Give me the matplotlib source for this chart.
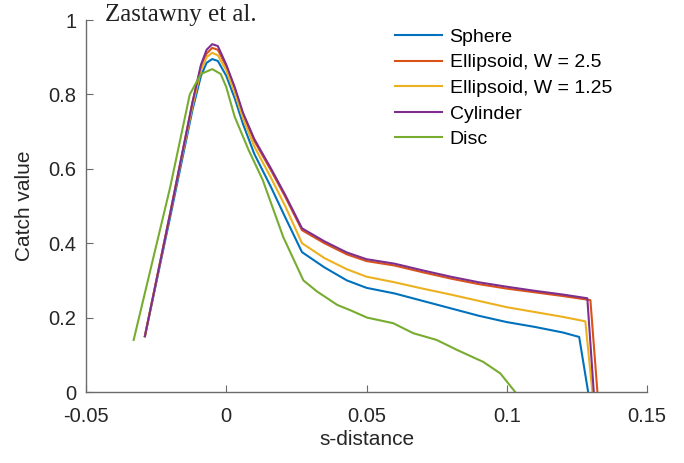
import numpy as np
import matplotlib.pyplot as plt

plt.rcParams['font.family'] = ['Liberation Sans', 'DejaVu Sans']

# catch value along the s-distance for each particle shape
s_sphere = [-0.029, -0.020, -0.012, -0.009, -0.007, -0.005, -0.003, 0.000, 0.003, 0.006, 0.010,
            0.016, 0.021, 0.027, 0.035, 0.043, 0.050, 0.060, 0.070, 0.080, 0.090, 0.100, 0.110,
            0.120, 0.1258, 0.129]
v_sphere = [0.15, 0.47, 0.76, 0.85, 0.885, 0.895, 0.89, 0.85, 0.79, 0.72, 0.64,
            0.55, 0.47, 0.376, 0.335, 0.30, 0.28, 0.265, 0.245, 0.225, 0.205, 0.188, 0.175,
            0.160, 0.148, 0.0]

s_ell25 = [-0.029, -0.020, -0.012, -0.009, -0.007, -0.005, -0.003, 0.000, 0.003, 0.006, 0.010,
           0.016, 0.021, 0.027, 0.035, 0.043, 0.050, 0.060, 0.070, 0.080, 0.090, 0.100, 0.110,
           0.120, 0.1298, 0.1323]
v_ell25 = [0.15, 0.48, 0.78, 0.875, 0.91, 0.925, 0.92, 0.875, 0.815, 0.745, 0.675,
           0.595, 0.525, 0.435, 0.40, 0.37, 0.352, 0.34, 0.322, 0.305, 0.29, 0.278, 0.268,
           0.258, 0.247, 0.0]

s_ell125 = [-0.029, -0.020, -0.012, -0.009, -0.007, -0.005, -0.003, 0.000, 0.003, 0.006, 0.010,
            0.016, 0.021, 0.027, 0.035, 0.043, 0.050, 0.060, 0.070, 0.080, 0.090, 0.100, 0.110,
            0.120, 0.128, 0.1305]
v_ell125 = [0.15, 0.48, 0.77, 0.865, 0.90, 0.912, 0.905, 0.865, 0.805, 0.735, 0.66,
            0.575, 0.50, 0.40, 0.36, 0.33, 0.31, 0.295, 0.278, 0.262, 0.245, 0.228, 0.215,
            0.202, 0.19, 0.0]

s_cyl = [-0.029, -0.020, -0.012, -0.009, -0.007, -0.005, -0.003, 0.000, 0.003, 0.006, 0.010,
         0.016, 0.021, 0.027, 0.035, 0.043, 0.050, 0.060, 0.070, 0.080, 0.090, 0.100, 0.110,
         0.120, 0.1287, 0.131]
v_cyl = [0.15, 0.48, 0.78, 0.88, 0.92, 0.935, 0.93, 0.88, 0.82, 0.75, 0.68,
         0.60, 0.53, 0.44, 0.405, 0.375, 0.357, 0.345, 0.327, 0.31, 0.295, 0.283, 0.272,
         0.262, 0.252, 0.0]

s_disc = [-0.033, -0.020, -0.013, -0.009, -0.005, -0.002, 0.000, 0.003, 0.008, 0.013, 0.0203,
          0.0275, 0.0324, 0.0396, 0.0442, 0.0502, 0.0595, 0.0667, 0.075, 0.0823, 0.0916,
          0.0977, 0.103]
v_disc = [0.14, 0.55, 0.80, 0.855, 0.868, 0.855, 0.82, 0.74, 0.65, 0.57, 0.417,
          0.30, 0.27, 0.234, 0.22, 0.20, 0.185, 0.158, 0.14, 0.113, 0.081,
          0.05, 0.0]

series = [
    ('Sphere', s_sphere, v_sphere, '#0072BD'),
    ('Ellipsoid, W = 2.5', s_ell25, v_ell25, '#D95319'),
    ('Ellipsoid, W = 1.25', s_ell125, v_ell125, '#EDB120'),
    ('Cylinder', s_cyl, v_cyl, '#7E2F8E'),
    ('Disc', s_disc, v_disc, '#77AC30'),
]

fig = plt.figure(figsize=(6.84, 4.63), dpi=100)
ax = fig.add_axes([0.1257, 0.1533, 0.8203, 0.8035])

for name, s, v, c in series:
    ax.plot(s, v, color=c, lw=1.5, label=name)

ax.set_xlim(-0.05, 0.15)
ax.set_ylim(0, 1)
ax.set_xticks([-0.05, 0, 0.05, 0.1, 0.15])
ax.set_xticklabels(['-0.05', '0', '0.05', '0.1', '0.15'])
ax.set_yticks([0, 0.2, 0.4, 0.6, 0.8, 1])
ax.set_yticklabels(['0', '0.2', '0.4', '0.6', '0.8', '1'])

for side in ['top', 'right']:
    ax.spines[side].set_visible(False)
for side in ['left', 'bottom']:
    ax.spines[side].set_color('#6b6b6b')
    ax.spines[side].set_linewidth(1.0)
ax.tick_params(direction='in', length=5, width=0.8, color='#6b6b6b',
               labelsize=14.5, labelcolor='#262626')
ax.tick_params(axis='x', pad=10.5)
ax.tick_params(axis='y', pad=7)

ax.set_xlabel('s-distance', fontsize=15, color='#262626', labelpad=3)
ax.set_ylabel('Catch value', fontsize=15, color='#262626', labelpad=10)

ax.text(0.034, 0.997, 'Zastawny et al.', transform=ax.transAxes,
        family='Liberation Serif', fontsize=18, color='#222222', va='baseline')

ax.legend(loc='upper left', bbox_to_anchor=(0.537, 0.999), frameon=False,
          fontsize=14, handlelength=2.4, handletextpad=0.4, labelspacing=0.41,
          borderaxespad=0)

fig.savefig('out.png', dpi=100)
